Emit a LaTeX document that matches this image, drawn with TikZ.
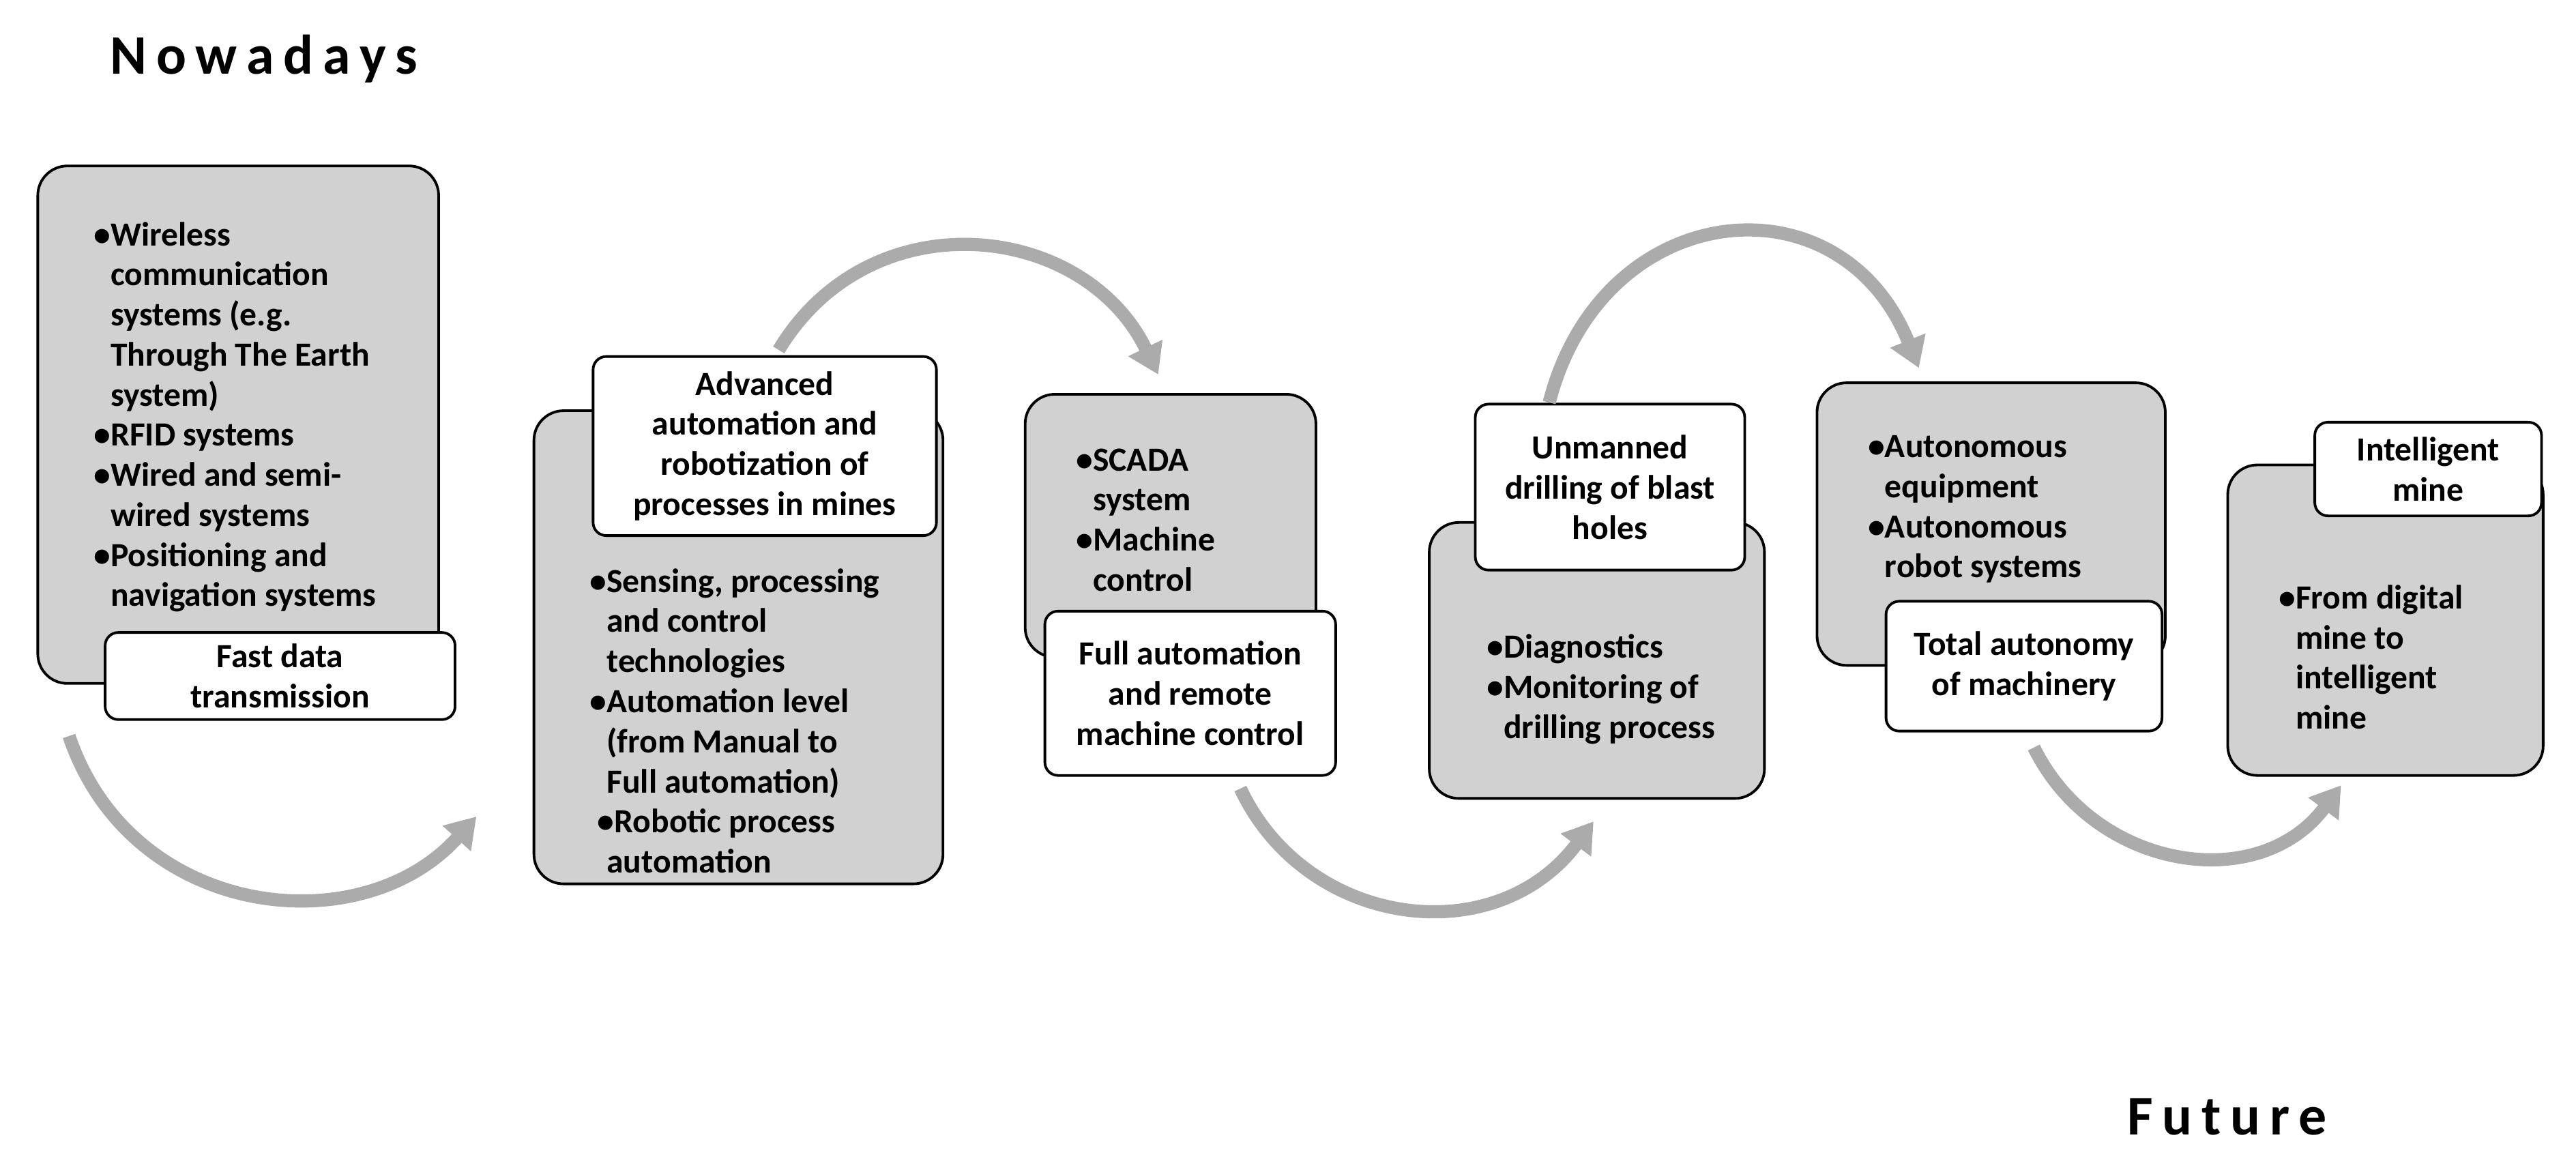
\documentclass[tikz,border=0pt]{standalone}
\usepackage{fontspec}
\setmainfont{Carlito}
\usetikzlibrary{arrows.meta}
\newcommand{\bl}{\textbullet}
\newcommand{\ind}{\phantom{\textbullet}}
\tikzset{
  stage/.style={draw, line width=0.8pt, rounded corners=9pt, fill=black!18, anchor=north west, align=left, inner sep=0pt},
  tag/.style={draw, line width=0.8pt, rounded corners=4pt, fill=white, align=center, inner sep=0pt},
  flow/.style={line width=4pt, draw=black!33, -{Triangle[length=9pt,width=11pt]}},
  every node/.style={font=\bfseries\fontsize{10.3}{12.2}\selectfont}
}
\begin{document}
\begin{tikzpicture}[x=0.5pt,y=-0.5pt]
  \useasboundingbox (0,0) rectangle (1568,713);
  % titles
  \node[anchor=west, font=\bfseries\fontsize{17}{20}\selectfont] (now) at (60,36) {N\,o\,w\,a\,d\,a\,y\,s};
  \node[anchor=west, font=\bfseries\fontsize{17}{20}\selectfont] (fut) at (1288,680) {F\,u\,t\,u\,r\,e};
  % stage boxes
  \draw[stage] (23,101) rectangle (267,416);
  \node[anchor=north west, align=left] (t1) at (50,128) {\bl Wireless\\\ind communication\\\ind systems (e.g.\\\ind Through The Earth\\\ind system)\\\bl RFID systems\\\bl Wired and semi-\\\ind wired systems\\\bl Positioning and\\\ind navigation systems};
  \draw[stage] (325,250) rectangle (574,538);
  \node[anchor=north west, align=left] (t2) at (352,339) {\bl Sensing, processing\\\ind and control\\\ind technologies\\\bl Automation level\\\ind (from Manual to\\\ind Full automation)\\\ \bl Robotic process\\\ind automation};
  \draw[stage] (624,240) rectangle (801,400);
  \node[anchor=north west, align=left] (t3) at (648,266) {\bl SCADA\\\ind system\\\bl Machine\\\ind control};
  \draw[stage] (870,318) rectangle (1074,486);
  \node[anchor=north west, align=left] (t4) at (898,379) {\bl Diagnostics\\\bl Monitoring of\\\ind drilling process};
  \draw[stage] (1106,233) rectangle (1318,405);
  \node[anchor=north west, align=left] (t5) at (1130,258) {\bl Autonomous\\\ind equipment\\\bl Autonomous\\\ind robot systems};
  \draw[stage] (1356,283) rectangle (1548,472);
  \node[anchor=north west, align=left] (t6) at (1380,349) {\bl From digital\\\ind mine to\\\ind intelligent\\\ind mine};
  % tags
  \node[tag, minimum width=106.5pt, minimum height=26.5pt] (g1) at (170.5,411.5) {Fast data\\transmission};
  \node[tag, minimum width=104.5pt, minimum height=54.5pt] (g2) at (465.5,271.5) {Advanced\\automation and\\robotization of\\processes in mines};
  \node[tag, minimum width=88.5pt, minimum height=50pt] (g3) at (724.5,422) {Full automation\\and remote\\machine control};
  \node[tag, minimum width=82pt, minimum height=50.5pt] (g4) at (980,296.5) {Unmanned\\drilling of blast\\holes};
  \node[tag, minimum width=84pt, minimum height=39.5pt] (g5) at (1232,405.5) {Total autonomy\\of machinery};
  \node[tag, minimum width=69pt, minimum height=28.5pt] (g6) at (1478,285.5) {Intelligent\\mine};
  % flow arcs
  \coordinate (a1s) at (42,448);   \coordinate (a1e) at (290,497);
  \coordinate (a2s) at (474,213);  \coordinate (a2e) at (705,228);
  \coordinate (a3s) at (755,480);  \coordinate (a3e) at (970,500);
  \coordinate (a4s) at (943,245);  \coordinate (a4e) at (1168,224);
  \coordinate (a5s) at (1238,455); \coordinate (a5e) at (1425,478);
  \draw[flow] (a1s) .. controls (80,560) and (220,575) .. (a1e);
  \draw[flow] (a2s) .. controls (530,120) and (660,135) .. (a2e);
  \draw[flow] (a3s) .. controls (795,565) and (910,580) .. (a3e);
  \draw[flow] (a4s) .. controls (975,120) and (1120,105) .. (a4e);
  \draw[flow] (a5s) .. controls (1275,530) and (1375,545) .. (a5e);
\end{tikzpicture}
\end{document}
